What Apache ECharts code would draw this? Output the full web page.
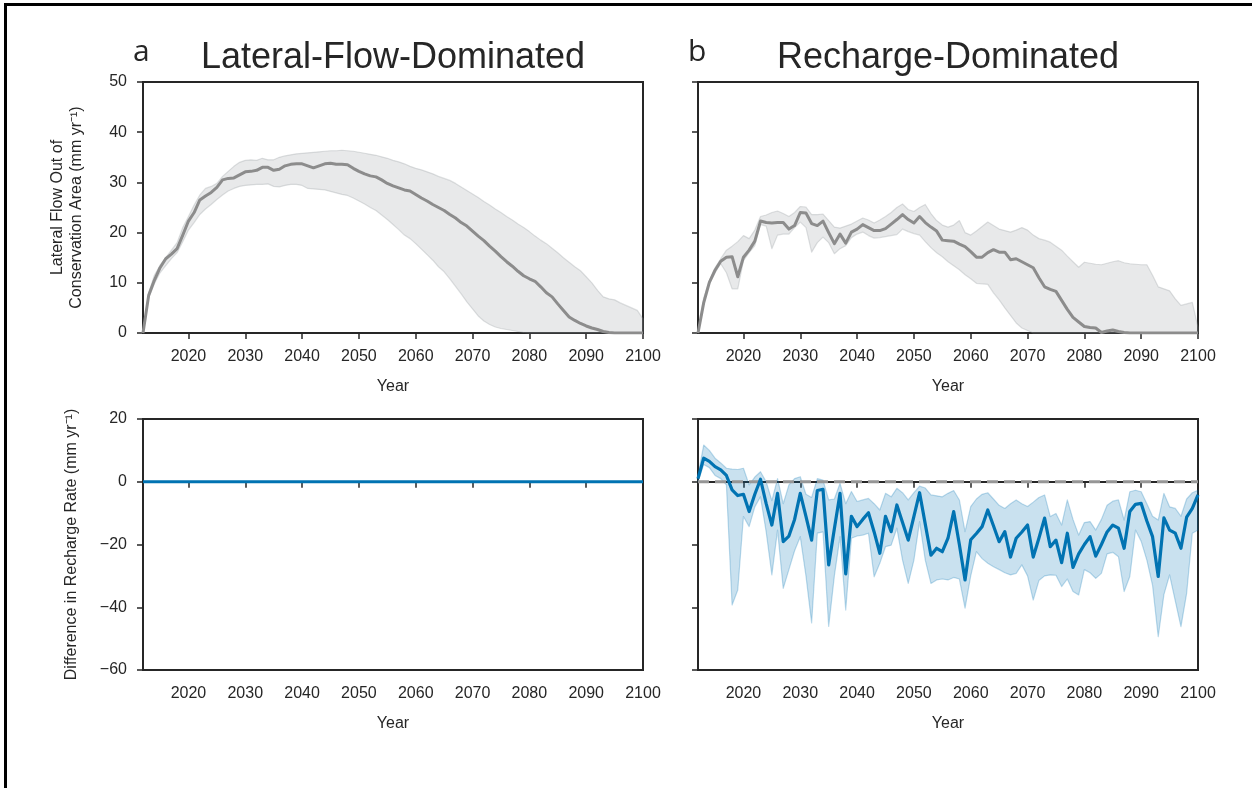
<!DOCTYPE html>
<html lang="en">
  <head>
    <meta charset="UTF-8" />
    <title>Lateral flow and recharge</title>
    <script src="https://cdn.jsdelivr.net/npm/echarts@6.0.0/dist/echarts.min.js"></script>
    <style>
      html, body { margin: 0; padding: 0; background: #fff; }
      #chart { width: 1252px; height: 788px; }
    </style>
  </head>
  <body>
    <div id="chart"></div>
    <script>
      // years 2012..2100
      var years = []
      for (var y = 2012; y <= 2100; y++) years.push(y)
      var tickYears = [2020, 2030, 2040, 2050, 2060, 2070, 2080, 2090, 2100]

      // a: lateral flow (mm/yr)
      var latMeanA = [
        0, 7.5, 10.5, 13, 14.8, 15.7, 16.8, 19.5, 22.3, 24,
        26.5, 27.3, 28, 29, 30.5, 30.8, 30.9, 31.5, 32.1, 32.2,
        32.4, 33, 33, 32.4, 32.6, 33.3, 33.6, 33.7, 33.7, 33.3,
        32.9, 33.3, 33.7, 33.8, 33.6, 33.6, 33.5, 32.8, 32.2, 31.7,
        31.3, 31.1, 30.5, 29.8, 29.3, 28.9, 28.5, 28.3, 27.6, 26.9,
        26.3, 25.6, 25, 24.4, 23.6, 22.9, 22, 21.3, 20.3, 19.3,
        18.4, 17.3, 16.3, 15.2, 14.2, 13.3, 12.3, 11.4, 10.8, 10.3,
        9.2, 8, 7.2, 5.8, 4.5, 3.2, 2.5, 1.9, 1.4, 1,
        0.7, 0.3, 0.1, 0, 0, 0, 0, 0, 0
      ]
      var latHighA = [
        0, 8, 11.5, 13.5, 15, 16.5, 18, 21, 23.2, 25.5,
        27.5, 28.8, 29.2, 29.8, 31.2, 32.2, 33.2, 34, 34.4, 34.5,
        34.4, 34.8, 34.5, 34.5, 35, 35.3, 35.5, 35.7, 35.8, 35.9,
        36, 36.1, 36.2, 36.3, 36.3, 36.4, 36.3, 36.2, 36, 35.8,
        35.6, 35.4, 35.1, 34.8, 34.4, 34.1, 33.7, 33.2, 32.8, 32.5,
        32.1, 31.7, 31.2, 30.8, 30.4, 29.8, 29.1, 28.4, 27.7, 27,
        26.2, 25.5, 24.7, 24, 23.2, 22.5, 21.7, 21, 20.2, 19.3,
        18.5, 17.8, 16.9, 16, 15, 14.1, 13.2, 12.4, 11.2, 10,
        8.5, 7.2, 6.8, 6.6, 6, 5.5, 5, 4.5, 2.8
      ]
      var latLowA = [
        0, 7, 9.8, 12, 13.4, 14.8, 16, 18.2, 20.5, 22,
        23.6, 24.7, 25.6, 26.6, 27.5, 28.3, 28.8, 29.2, 29.4, 29.5,
        29.6, 29.6, 29.7, 29.2, 29.1, 29.4, 29.6, 29.6, 29.4, 28.8,
        28.7, 28.6, 28.5, 28.2, 27.9, 27.6, 27.4, 26.9, 26.3, 25.7,
        25, 24.4, 23.5, 22.6, 21.6, 20.6, 19.5, 18.8, 17.8, 16.7,
        15.6, 14.5, 13.2, 12.2, 10.8, 9.3, 7.8, 6.2, 4.8, 3.4,
        2.4, 1.7, 1.2, 0.9, 0.7, 0.5, 0.3, 0.1, 0, 0,
        0, 0, 0, 0, 0, 0, 0, 0, 0, 0,
        0, 0, 0, 0, 0, 0, 0, 0, 0
      ]

      // b: lateral flow (mm/yr)
      var latMeanB = [
        0, 6, 10.1, 12.5, 14.3, 15.1, 15.2, 11.2, 15.1, 16.5,
        18.3, 22.3, 22, 21.9, 22, 22, 20.7, 21.4, 24, 23.9,
        21.8, 21.4, 22.3, 20, 17.8, 19.7, 17.9, 20.1, 20.7, 21.6,
        21, 20.4, 20.4, 20.8, 21.7, 22.6, 23.6, 22.6, 21.9, 23.2,
        22, 21.1, 20.3, 18.5, 18.4, 18.3, 17.7, 17.2, 16.2, 15.1,
        15.1, 16, 16.6, 16.1, 16.1, 14.6, 14.8, 14.2, 13.6, 13,
        11, 9.2, 8.7, 8.3, 6.5, 4.7, 3.1, 2.2, 1.3, 1.1,
        1, 0.1, 0.4, 0.6, 0.3, 0.1, 0, 0, 0, 0,
        0, 0, 0, 0, 0, 0, 0, 0, 0
      ]
      var latHighB = [
        0, 7, 10.4, 13, 14.8, 16.5, 17.3, 18.2, 19.4, 18.8,
        20.5, 23.2, 23.5, 24, 24.3, 23.8, 23.2, 24, 25.2, 25.1,
        23.6, 23.6, 23.7, 22.4, 21.1, 20.9, 21.3, 21.7, 22.3, 22.9,
        22.5, 21.9, 22.5, 23.2, 24, 25, 25.7, 24.6, 24.2, 25,
        25.6, 23.8, 22.4, 21.5, 21.1, 21.5, 22.4, 20, 19.5, 20.3,
        21.2, 22.1, 21.4, 20.7, 20.4, 20.1, 20.5, 21, 20.5, 19.5,
        18.8, 18.5, 18.1, 17.3, 16.5, 15.3, 14.2, 13.1, 14.1, 13.9,
        13.7, 13.6, 13.9, 14.2, 14.4, 14, 13.8, 13.7, 13.6, 13.6,
        11.5, 9.2, 8.8, 8.4, 6.8, 5.5, 5.8, 6.1, 1.1
      ]
      var latLowB = [
        0, 6, 9.8, 12, 13.8, 12, 8.8, 8.8, 14.4, 16,
        17.4, 21.6, 21.3, 16.8, 19.5, 19.7, 19.7, 21, 22.1, 21,
        16.1, 18, 19.1, 18, 15.8, 16.8, 17.4, 19, 19.7, 20.1,
        19.4, 18.9, 19, 19.2, 19.4, 19.6, 20.7, 20.2, 19.8, 19.5,
        18.2, 17, 16, 15.2, 14.2, 13.4, 12.6, 11.6, 10.8, 9.9,
        9.8, 9.7, 8, 6.6, 5, 3.5, 2, 1, 0.5, 0,
        0, 0, 0, 0, 0, 0, 0, 0, 0, 0,
        0, 0, 0, 0, 0, 0, 0, 0, 0, 0,
        0, 0, 0, 0, 0, 0, 0, 0, 0
      ]

      // a: recharge difference (mm/yr)
      var rechMeanA = [
        0, 0, 0, 0, 0, 0, 0, 0, 0, 0,
        0, 0, 0, 0, 0, 0, 0, 0, 0, 0,
        0, 0, 0, 0, 0, 0, 0, 0, 0, 0,
        0, 0, 0, 0, 0, 0, 0, 0, 0, 0,
        0, 0, 0, 0, 0, 0, 0, 0, 0, 0,
        0, 0, 0, 0, 0, 0, 0, 0, 0, 0,
        0, 0, 0, 0, 0, 0, 0, 0, 0, 0,
        0, 0, 0, 0, 0, 0, 0, 0, 0, 0,
        0, 0, 0, 0, 0, 0, 0, 0, 0
      ]

      // b: recharge difference (mm/yr)
      var rechMeanB = [
        1, 7.5, 6.5, 4.8, 3.8, 2, -2.6, -4.4, -4, -9.5,
        -4, 0.8, -7, -13.8, -3.7, -19.1, -17.3, -12, -3.7, -11,
        -18.6, -2.8, -2.4, -26.5, -15, -3.7, -29.4, -11, -14.3, -12,
        -9.9, -16, -22.8, -11, -15.9, -7.4, -13, -18.6, -11, -3.5,
        -13.5, -23.4, -21.2, -22.3, -18, -9.5, -20, -31.3, -18.5, -16.5,
        -14.3, -9, -14, -19.1, -15.9, -24, -18, -16, -13.8, -24,
        -18, -11.6, -20.7, -18.6, -25.8, -16.4, -27.3, -23, -20, -17.5,
        -23.7, -20, -16, -13.8, -14.8, -21.2, -9.5, -7.2, -6.9, -12.5,
        -17.5, -30.2, -11.5, -15.4, -16.4, -21.2, -11.3, -8.5, -4.2
      ]
      var rechHighB = [
        2, 11.7, 10, 7.5, 6, 4.3, 4, 3.9, 4.3, -1,
        1.5, 3.2, 0, -6, 1, -7, -1, 1, 1.6, -4,
        -5, 1, 0.5, -5.8, -5.5, -0.5, -7, -3.1, -6.3, -5.8,
        -5.3, -7, -9, -3.7, -4.8, -2.1, -3.5, -5.8, -3.5, -1.4,
        -2, -4.2, -4.5, -4.8, -3.7, -2.8, -5.8, -15.9, -7.9, -5.5,
        -4, -3.5, -5.5, -7.5, -8.5, -7, -5.8, -7, -7.9, -6.5,
        -5, -4.2, -11.1, -10.1, -13.8, -5.8, -12, -17, -13, -12.7,
        -15.4, -12, -7.5, -6.2, -5.8, -12.2, -3.2, -2.7, -3.2, -7,
        -11, -12.2, -3.7, -8, -8.5, -11, -5.5, -3.5, -2.7
      ]
      var rechLowB = [
        0, 5.5, 4.5, 2, 1, -1, -39.3, -34.5, -11.1, -14.3,
        -8, -4.8, -16, -29.7, -15.4, -34, -28, -22, -17.5, -30,
        -45, -16.4, -16, -46.1, -30, -17.5, -40.9, -18, -17.3, -17,
        -16.4, -30.3, -26, -20.7, -20.2, -14.8, -25, -32.4, -25, -12.7,
        -25, -32.4, -31.3, -31, -31.3, -30.5, -31, -40.3, -30, -22.3,
        -24.5, -26, -27.1, -28, -29, -29.7, -29.2, -26.5, -30, -37.7,
        -31.5, -30, -29.7, -29.8, -33.4, -31, -35, -36.1, -28, -29,
        -30.8, -29.2, -23, -22.5, -23.9, -35, -30.2, -15.4, -19, -25,
        -33, -49.4, -36, -29.7, -38, -46.2, -35.6, -16.4, -15.4
      ]

      var FONT = 'Liberation Sans'
      var INK = '#262626'
      var GREY = '#8c8c8c'
      var GREY_FILL = 'rgba(150,155,160,0.22)'
      var GREY_EDGE = 'rgba(150,155,160,0.3)'
      var BLUE = '#0173b2'
      var BLUE_FILL = 'rgba(1,115,178,0.21)'
      var BLUE_EDGE = 'rgba(1,115,178,0.25)'

      function pairs(vals) {
        return years.map(function (yr, i) { return [yr, vals[i]] })
      }
      function fmt(v) {
        return v < 0 ? '\u2212' + (-v) : String(v)
      }

      var grids = [
        { left: 143, top: 82, width: 500, height: 251 },
        { left: 698, top: 82, width: 500, height: 251 },
        { left: 143, top: 419, width: 500, height: 251 },
        { left: 698, top: 419, width: 500, height: 251 }
      ].map(function (g) {
        return Object.assign(g, { show: true, borderColor: INK, borderWidth: 2, backgroundColor: 'transparent' })
      })

      var xAxes = [0, 1, 2, 3].map(function (gi) {
        return {
          type: 'value', gridIndex: gi, min: 2012, max: 2100,
          name: 'Year', nameLocation: 'middle', nameGap: 46,
          nameTextStyle: { fontFamily: FONT, fontSize: 16, color: INK },
          axisLine: { show: true, lineStyle: { color: INK, width: 2 } },
          axisTick: { show: true, length: 6, customValues: tickYears, lineStyle: { color: INK, width: 1.5 } },
          axisLabel: {
            customValues: tickYears, margin: 16, fontFamily: FONT, fontSize: 16, color: INK,
            formatter: function (v) { return String(v) }
          },
          splitLine: { show: false }
        }
      })

      function yAxis(gi, min, max, interval, showLabel, name, gap) {
        return {
          type: 'value', gridIndex: gi, min: min, max: max, interval: interval,
          name: name || '', nameLocation: 'middle', nameGap: gap || 0, nameRotate: 90,
          nameTextStyle: { fontFamily: FONT, fontSize: 16, color: INK, lineHeight: 19 },
          axisLine: { show: true, lineStyle: { color: INK, width: 2 } },
          axisTick: { show: true, length: 6, lineStyle: { color: INK, width: 1.5 } },
          axisLabel: { show: showLabel, margin: 16, fontFamily: FONT, fontSize: 16, color: INK, formatter: fmt },
          splitLine: { show: false }
        }
      }

      var yAxes = [
        yAxis(0, 0, 50, 10, true, 'Lateral Flow Out of\nConservation Area (mm yr\u207B\u00B9)', 57),
        yAxis(1, 0, 50, 10, false),
        yAxis(2, -60, 20, 20, true, 'Difference in Recharge Rate (mm yr\u207B\u00B9)', 62),
        yAxis(3, -60, 20, 20, false)
      ]

      // shaded spread drawn as one polygon through the axis scales
      function band(gi, hi, lo, fill, edge) {
        return {
          type: 'custom', coordinateSystem: 'cartesian2d', xAxisIndex: gi, yAxisIndex: gi,
          data: [[years[0], lo[0]]], silent: true, z: 1,
          renderItem: function (params, api) {
            var pts = []
            for (var i = 0; i < years.length; i++) pts.push(api.coord([years[i], hi[i]]))
            for (var j = years.length - 1; j >= 0; j--) pts.push(api.coord([years[j], lo[j]]))
            return {
              type: 'polygon', shape: { points: pts },
              style: { fill: fill, stroke: edge, lineWidth: 1.2, lineJoin: 'round' }
            }
          }
        }
      }

      function meanLine(gi, vals, color, width) {
        return {
          type: 'line', xAxisIndex: gi, yAxisIndex: gi, data: pairs(vals),
          symbol: 'none', silent: true, z: 4,
          lineStyle: { color: color, width: width, join: 'round' }
        }
      }

      var series = [
        band(0, latHighA, latLowA, GREY_FILL, GREY_EDGE),
        meanLine(0, latMeanA, GREY, 3),
        band(1, latHighB, latLowB, GREY_FILL, GREY_EDGE),
        meanLine(1, latMeanB, GREY, 3),
        meanLine(2, rechMeanA, BLUE, 3.2),
        band(3, rechHighB, rechLowB, BLUE_FILL, BLUE_EDGE),
        {
          // zero reference line
          type: 'line', xAxisIndex: 3, yAxisIndex: 3, data: [[2012, 0], [2100, 0]],
          symbol: 'none', silent: true, z: 3,
          lineStyle: { color: '#969696', width: 3, type: [11, 6], cap: 'butt' }
        },
        meanLine(3, rechMeanB, BLUE, 3.2)
      ]

      function title(text, left, top, size, family, align) {
        return {
          text: text, left: left, top: top, padding: 0, textAlign: align || 'left',
          textStyle: { fontFamily: family, fontSize: size, fontWeight: 'normal', color: INK }
        }
      }

      var chart = echarts.init(document.getElementById('chart'), null, { renderer: 'canvas' })
      chart.setOption({
        animation: false,
        backgroundColor: '#ffffff',
        title: [
          title('a', 133, 37, 30, 'Open Sans'),
          title('Lateral-Flow-Dominated', 393, 40, 36, FONT, 'center'),
          title('b', 688, 37, 30, 'Open Sans'),
          title('Recharge-Dominated', 948, 40, 36, FONT, 'center')
        ],
        grid: grids,
        xAxis: xAxes,
        yAxis: yAxes,
        series: series,
        graphic: [
          { type: 'rect', shape: { x: 4, y: 3, width: 1248, height: 3 }, style: { fill: '#000' } },
          { type: 'rect', shape: { x: 4, y: 3, width: 3, height: 785 }, style: { fill: '#000' } }
        ]
      })
    </script>
  </body>
</html>
